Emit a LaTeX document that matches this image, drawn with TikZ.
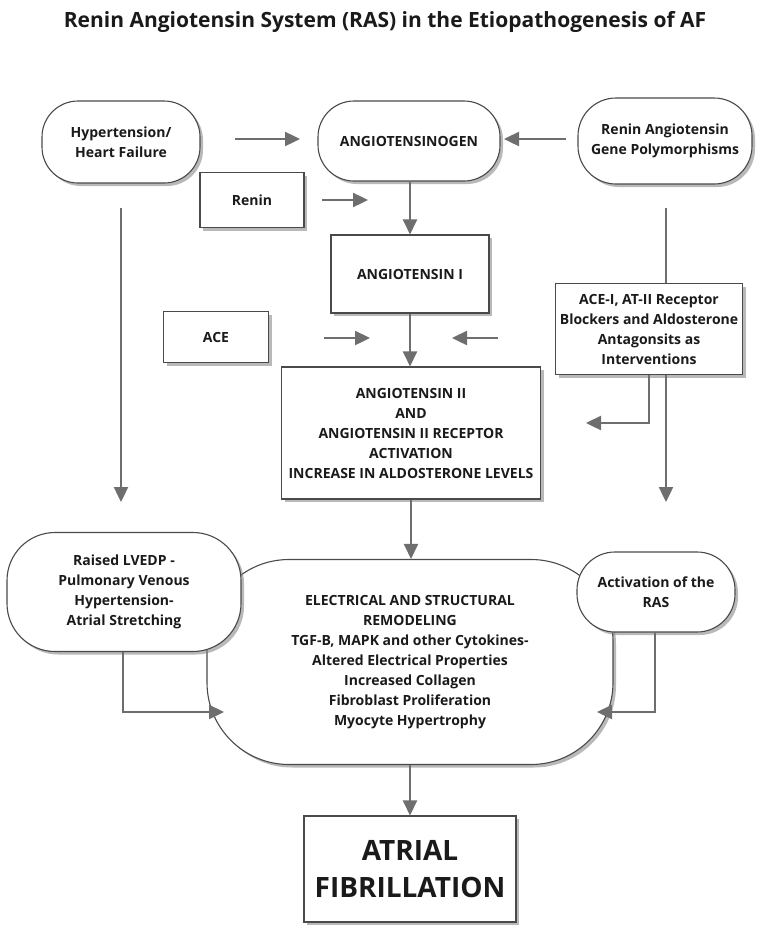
\documentclass[tikz,border=0pt]{standalone}
\usepackage{fontspec}
\setmainfont{Open Sans}
\usetikzlibrary{arrows.meta,shadows}
\definecolor{linegray}{HTML}{6E6E6E}
\definecolor{boxline}{HTML}{4A4A4A}
\definecolor{txt}{HTML}{1A1A1A}
\begin{document}
\begin{tikzpicture}[x=1pt,y=-1pt,
  lbl/.style={font=\bfseries\fontsize{14}{20}\selectfont, text=txt, align=center},
  box/.style={lbl, draw=boxline, line width=1.1pt, fill=white, inner sep=0pt,
    drop shadow={shadow xshift=3pt, shadow yshift=-3pt, fill=black!50, opacity=0.55}},
  rbox/.style={box, rounded corners=#1},
  conn/.style={draw=linegray, line width=2.4pt},
  arr/.style={conn, -{Triangle[length=15pt,width=14pt]}}
]
\useasboundingbox (0,0) rectangle (771,932);
\fill[white] (0,0) rectangle (771,932);

\node[font=\bfseries\fontsize{21}{24}\selectfont, text=txt] (title) at (385,22)
  {Renin Angiotensin System (RAS) in the Etiopathogenesis of AF};

% top row
\node[rbox=36pt, minimum width=158pt, minimum height=82pt] (hyp) at (121,142) {Hypertension/\\Heart Failure};
\node[rbox=36pt, minimum width=182pt, minimum height=80pt] (ang) at (409,141) {ANGIOTENSINOGEN};
\node[rbox=38pt, minimum width=174pt, minimum height=86pt] (gene) at (665,141) {Renin Angiotensin\\Gene Polymorphisms};

\node[box, minimum width=104pt, minimum height=55pt] (renin) at (252,200) {Renin};
\node[box, minimum width=158pt, minimum height=78pt] (angI) at (410,274) {ANGIOTENSIN I};
\node[box, minimum width=105pt, minimum height=51pt] (ace) at (216,337) {ACE};
\node[box, minimum width=187pt, minimum height=91pt] (acei) at (649,329)
  {ACE-I, AT-II Receptor\\Blockers and Aldosterone\\Antagonsits as\\Interventions};
\node[box, minimum width=259pt, minimum height=132pt] (angII) at (411,433)
  {ANGIOTENSIN II\\AND\\ANGIOTENSIN II RECEPTOR\\ACTIVATION\\INCREASE IN ALDOSTERONE LEVELS};

% central
\node[rbox=82pt, minimum width=406pt, minimum height=205pt] (remod) at (410,662)
  {ELECTRICAL AND STRUCTURAL\\REMODELING\\TGF-B, MAPK and other Cytokines-\\Altered Electrical Properties\\Increased Collagen\\Fibroblast Proliferation\\Myocyte Hypertrophy};
\node[rbox=48pt, minimum width=234pt, minimum height=119pt] (lvedp) at (124,592)
  {Raised LVEDP -\\Pulmonary Venous\\Hypertension-\\Atrial Stretching};
\node[rbox=38pt, minimum width=158pt, minimum height=80pt] (ras) at (656,592)
  {Activation of the\\RAS};

\node[box, minimum width=212pt, minimum height=106pt, font=\bfseries\fontsize{28}{37}\selectfont] (af) at (410,869)
  {ATRIAL\\FIBRILLATION};

% free-ended arrows
\coordinate (h1) at (235,139); \coordinate (h2) at (300,139);
\coordinate (g1) at (566,139); \coordinate (g2) at (504,139);
\coordinate (r1) at (322,200); \coordinate (r2) at (368,200);
\coordinate (a1) at (324,338); \coordinate (a2) at (370,338);
\coordinate (b1) at (498,338); \coordinate (b2) at (452,338);
\coordinate (lt) at (121,208); \coordinate (lb) at (121,502);
\coordinate (rt) at (666,208); \coordinate (rb) at (666,502);
\coordinate (ek) at (649,423); \coordinate (ee) at (586,423);
\coordinate (lk) at (123,712); \coordinate (le) at (224,712);
\coordinate (rk) at (655,712); \coordinate (re) at (597,712);

\draw[arr] (h1) -- (h2);
\draw[arr] (g1) -- (g2);
\draw[arr] (r1) -- (r2);
\draw[arr] (a1) -- (a2);
\draw[arr] (b1) -- (b2);
\draw[arr] (lt) -- (lb);
\draw[conn] (rt) -- (rt |- acei.north);
\draw[arr] (rt |- acei.south) -- (rb);
\draw[arr] (acei.south -| ek) -- (ek) -- (ee);

\draw[arr] (ang.south -| angI.north) -- (angI.north);
\draw[arr] (angI.south) -- (angI.south |- angII.north);
\draw[arr] (angII.south) -- (angII.south |- remod.north);
\draw[arr] (lvedp.south -| lk) -- (lk) -- (le);
\draw[arr] (ras.south -| rk) -- (rk) -- (re);
\draw[arr] (remod.south) -- (remod.south |- af.north);
\end{tikzpicture}
\end{document}
